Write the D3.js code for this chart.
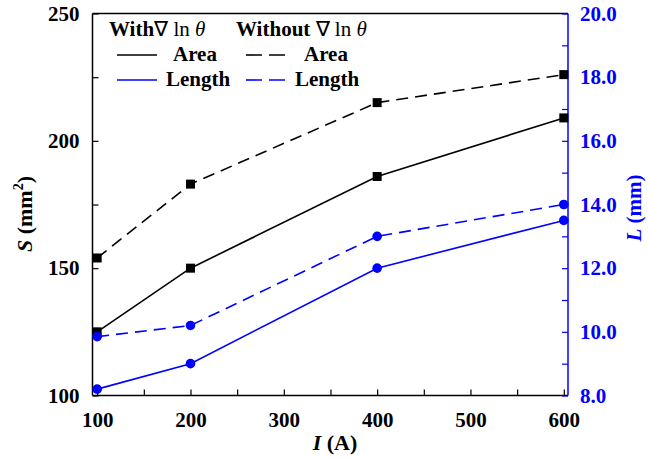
<!DOCTYPE html>
<html><head><meta charset="utf-8">
<script src="https://cdn.jsdelivr.net/npm/d3@7"></script>
<style>body{margin:0;background:#fff}svg{display:block}</style>
</head><body><svg id="c" width="648" height="458"></svg>
<script>
const currents = [100, 200, 400, 600];
const areaWith = [125, 150, 186, 209];
const areaWithout = [154, 183, 215, 226];
const lengthWith = [8.2, 9.0, 12.0, 13.5];
const lengthWithout = [9.85, 10.2, 13.0, 14.0];
const xTicks = [100, 200, 300, 400, 500, 600];
const yLeftTicks = [100, 150, 200, 250];
const yRightTicks = [8, 10, 12, 14, 16, 18, 20];

const FONT = "'Liberation Serif', 'Times New Roman', serif";
const svg = d3.select("#c");
const L = 92.5, R = 568, T = 13.5, B = 395.5;
const x = d3.scaleLinear().domain([95, 604.5]).range([L, R]);
const yS = d3.scaleLinear().domain([100, 250]).range([B, T]);
const yL = d3.scaleLinear().domain([8, 20]).range([B, T]);
const blue = "#0000ff";

svg.append("line").attr("x1", L).attr("x2", R).attr("y1", T).attr("y2", T).attr("stroke", "#000").attr("stroke-width", 1.5);

const gx = svg.append("g").attr("transform", `translate(0,${B})`)
  .call(d3.axisBottom(x).tickValues(d3.range(100, 601, 50)).tickSize(-6).tickPadding(17)
    .tickFormat(d => xTicks.includes(d) ? d : ""));
const gl = svg.append("g").attr("transform", `translate(${L},0)`)
  .call(d3.axisLeft(yS).tickValues(d3.range(100, 251, 25)).tickSize(-6).tickPadding(13)
    .tickFormat(d => yLeftTicks.includes(d) ? d : ""));
const gr = svg.append("g").attr("transform", `translate(${R},0)`)
  .call(d3.axisRight(yL).tickValues(d3.range(8, 20.01, 1)).tickSize(-6).tickPadding(12)
    .tickFormat(d => yRightTicks.includes(d) ? d3.format(".1f")(d) : ""));

[gx, gl, gr].forEach(g => g.attr("font-family", null).attr("font-size", null));
[gx, gl].forEach(g => {
  g.select(".domain").attr("stroke", "#000").attr("stroke-width", 1.5);
  g.selectAll(".tick line").attr("stroke", "#000").attr("stroke-width", 1.2);
  g.selectAll(".tick text").attr("fill", "#000");
});
gr.select(".domain").attr("stroke", blue).attr("stroke-width", 1.5);
gr.selectAll(".tick line").attr("stroke", blue).attr("stroke-width", 1.2);
gr.selectAll(".tick text").attr("fill", blue);
gx.select(".domain").attr("d", `M${L},0H${R}`);
gl.select(".domain").attr("d", `M0,${B}V${T}`);
gr.select(".domain").attr("d", `M0,${B}V${T}`);

function series(vals, yscale, color, dashed, marker) {
  const line = d3.line().x((d, i) => x(currents[i])).y(d => yscale(d));
  svg.append("path").datum(vals).attr("d", line).attr("fill", "none")
    .attr("stroke", color).attr("stroke-width", 1.6)
    .attr("stroke-dasharray", dashed ? "12,7" : null);
  if (marker === "square") {
    svg.selectAll(null).data(vals).enter().append("rect")
      .attr("x", (d, i) => x(currents[i]) - 4.5).attr("y", d => yscale(d) - 4.5)
      .attr("width", 9).attr("height", 9).attr("fill", color);
  } else {
    svg.selectAll(null).data(vals).enter().append("circle")
      .attr("cx", (d, i) => x(currents[i])).attr("cy", d => yscale(d))
      .attr("r", 4.8).attr("fill", color);
  }
}
series(areaWith, yS, "#000", false, "square");
series(areaWithout, yS, "#000", true, "square");
series(lengthWith, yL, blue, false, "circle");
series(lengthWithout, yL, blue, true, "circle");

const st = svg.append("text").attr("transform", "translate(32,214) rotate(-90)").attr("text-anchor", "middle").attr("font-size", 22);
st.append("tspan").attr("font-style", "italic").text("S");
st.append("tspan").text(" (mm");
st.append("tspan").attr("dy", -9).attr("font-size", 14).text("2");
st.append("tspan").attr("dy", 9).text(")");

const lt = svg.append("text").attr("transform", "translate(641,208) rotate(-90)").attr("text-anchor", "middle").attr("fill", blue).attr("font-size", 21);
lt.append("tspan").attr("font-style", "italic").text("L");
lt.append("tspan").text(" (mm)");

const xt = svg.append("text").attr("x", 335).attr("y", 450).attr("text-anchor", "middle").attr("font-size", 22);
xt.append("tspan").attr("font-style", "italic").text("I");
xt.append("tspan").text(" (A)");

function head(xp, label) {
  const t = svg.append("text").attr("x", xp).attr("y", 36).attr("font-size", 21);
  t.append("tspan").text(label);
  t.append("tspan").attr("font-weight", "normal").text("\u2207 ln ");
  t.append("tspan").attr("font-weight", "normal").attr("font-style", "italic").text("θ");
}
head(109, "With");
head(236, "Without ");
const legRows = [
  {y: 55, color: "#000", label: "Area", x1: 173, x2: 304},
  {y: 80, color: blue, label: "Length", x1: 166, x2: 295}
];
legRows.forEach(r => {
  svg.append("line").attr("x1", 117).attr("x2", 157).attr("y1", r.y).attr("y2", r.y).attr("stroke", r.color).attr("stroke-width", 1.6);
  svg.append("line").attr("x1", 246).attr("x2", 285).attr("y1", r.y).attr("y2", r.y).attr("stroke", r.color).attr("stroke-width", 1.6).attr("stroke-dasharray", "16,7");
  svg.append("text").attr("x", r.x1).attr("y", r.y + 6).attr("font-size", 21).text(r.label);
  svg.append("text").attr("x", r.x2).attr("y", r.y + 6).attr("font-size", 21).text(r.label);
});

svg.selectAll("text").style("font-family", FONT).style("font-weight", "bold");
svg.selectAll(".tick text").attr("font-size", 21);
svg.selectAll("tspan").each(function() {
  const w = this.getAttribute("font-weight");
  if (w) d3.select(this).style("font-weight", w);
});
</script></body></html>
